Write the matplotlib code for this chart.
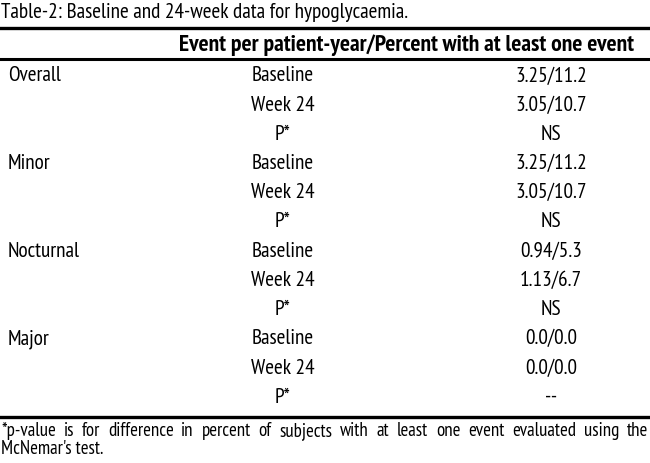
"""Table-2: hypoglycaemia baseline / week 24, drawn as a text table."""
import matplotlib
matplotlib.use("Agg")
import matplotlib.pyplot as plt
from matplotlib.lines import Line2D

plt.rcParams["font.family"] = ["PT Sans Narrow", "DejaVu Sans"]

title = "Table-2: Baseline and 24-week data for hypoglycaemia."
header = "Event per patient-year/Percent with at least one event"
groups = ["Overall", "Minor", "Nocturnal", "Major"]
timepoints = ["Baseline", "Week 24", "P*"]
values = [
    ["3.25/11.2", "3.05/10.7", "NS"],
    ["3.25/11.2", "3.05/10.7", "NS"],
    ["0.94/5.3", "1.13/6.7", "NS"],
    ["0.0/0.0", "0.0/0.0", "--"],
]
footnote = ("*p-value is for difference in percent of subjects with at least one "
            "event evaluated using the McNemar's test.")

W, H = 650, 464
fig = plt.figure(figsize=(W / 100, H / 100), dpi=100)


def fy(y):
    return 1 - y / H


def fx(x):
    return x / W


def rule(y, lw):
    fig.add_artist(Line2D([0, 0.997], [fy(y), fy(y)], color="black", lw=lw))


fs = 15.3
fig.text(fx(1), fy(13), title, fontsize=fs, va="center", ha="left")
rule(29, 2.4)
fig.text(fx(634), fy(45), header, fontsize=17, fontweight="bold", va="center", ha="right")
rule(60, 2.2)

y0, dy = 76, 29.2
r = 0
for g, vals in zip(groups, values):
    for k, (tp, v) in enumerate(zip(timepoints, vals)):
        y = y0 + r * dy
        if k == 0:
            fig.text(fx(8), fy(y), g, fontsize=fs, va="center", ha="left")
        fig.text(fx(283), fy(y), tp, fontsize=fs, va="center", ha="center")
        fig.text(fx(551), fy(y), v, fontsize=fs, va="center", ha="center")
        r += 1

rule(418, 2.4)

# footnote: first line justified word by word (on a common baseline), second line left
words = footnote.split()
line1 = words[:-2]
line2 = " ".join(words[-2:])
fig.canvas.draw()
renderer = fig.canvas.get_renderer()
fnfs = 13.6
arts = [fig.text(0, fy(436), w_, fontsize=fnfs, va="baseline", ha="left") for w_ in line1]
widths = [a.get_window_extent(renderer).width for a in arts]
gap = (W - 3 - sum(widths)) / (len(arts) - 1)
x = 1
for a, w_ in zip(arts, widths):
    a.set_x(fx(x))
    x += w_ + gap
fig.text(fx(1), fy(454), line2, fontsize=fnfs, va="baseline", ha="left")

fig.savefig("out.png", dpi=100)
